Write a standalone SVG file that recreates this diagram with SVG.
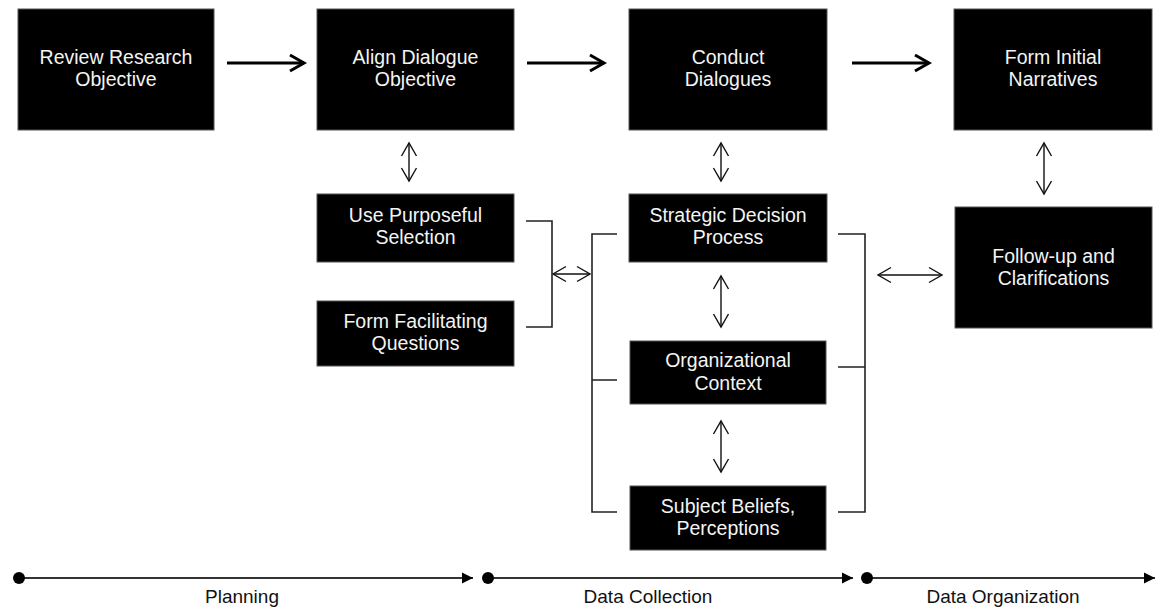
<svg xmlns="http://www.w3.org/2000/svg" width="1161" height="611" viewBox="0 0 1161 611">
<style>
.box{fill:#000;stroke:#555;stroke-width:1}
.t{font-family:"Liberation Sans",Arial,sans-serif;font-size:19.5px;fill:#f4f4f4;text-anchor:middle}
.lab{font-family:"Liberation Sans",Arial,sans-serif;font-size:19px;fill:#111;text-anchor:middle}
.bold{stroke:#000;stroke-width:3;fill:none;marker-end:url(#mb)}
.dbl{stroke:#111;stroke-width:1.4;fill:none;marker-start:url(#mt);marker-end:url(#mt)}
.br{stroke:#222;stroke-width:1.6;fill:none}
.tl{stroke:#333;stroke-width:2;fill:none;marker-end:url(#mf)}
.dot{fill:#000}
</style>
<defs>
<marker id="mb" markerUnits="userSpaceOnUse" viewBox="-18 -12 22 24" markerWidth="22" markerHeight="24" refX="0" refY="0" orient="auto">
<path d="M-14,-8 L0,0 L-14,8" fill="none" stroke="#000" stroke-width="3"/>
</marker>
<marker id="mt" markerUnits="userSpaceOnUse" viewBox="-16 -10 20 20" markerWidth="20" markerHeight="20" refX="0" refY="0" orient="auto-start-reverse">
<path d="M-13,-7.5 L0,0 L-13,7.5" fill="none" stroke="#111" stroke-width="1.4"/>
</marker>
<marker id="mf" markerUnits="userSpaceOnUse" viewBox="-13 -7 15 14" markerWidth="15" markerHeight="14" refX="0" refY="0" orient="auto">
<path d="M-11,-5.5 L0,0 L-11,5.5 Z" fill="#000"/>
</marker>
</defs>

<g id="connectors">
<line class="bold" x1="227" y1="63" x2="304" y2="63"/>
<line class="bold" x1="527" y1="63" x2="604" y2="63"/>
<line class="bold" x1="852" y1="63" x2="929" y2="63"/>
<line class="dbl" x1="409" y1="143" x2="409" y2="181"/>
<line class="dbl" x1="721" y1="143" x2="721" y2="181"/>
<line class="dbl" x1="1044" y1="143" x2="1044" y2="194"/>
<line class="dbl" x1="721" y1="276" x2="721" y2="327"/>
<line class="dbl" x1="721" y1="421" x2="721" y2="472"/>
<line class="dbl" x1="553" y1="274" x2="590" y2="274"/>
<line class="dbl" x1="878" y1="275" x2="942" y2="275"/>
<path class="br" d="M526,221 H552 V327 H526"/>
<path class="br" d="M617,234 H592 V512 H617 M592,380 H617"/>
<path class="br" d="M838,234 H865 V512 H838 M865,367 H838"/>
</g>

<g id="review-research"><rect class="box" x="18" y="9" width="196" height="121"/><text class="t" x="116" y="64">Review Research</text><text class="t" x="116" y="86">Objective</text></g>
<g id="align-dialogue"><rect class="box" x="317" y="9" width="197" height="121"/><text class="t" x="415.5" y="64">Align Dialogue</text><text class="t" x="415.5" y="86">Objective</text></g>
<g id="conduct-dialogues"><rect class="box" x="629" y="9" width="198" height="121"/><text class="t" x="728" y="64">Conduct</text><text class="t" x="728" y="86">Dialogues</text></g>
<g id="form-initial"><rect class="box" x="954" y="9" width="198" height="121"/><text class="t" x="1053" y="64">Form Initial</text><text class="t" x="1053" y="86">Narratives</text></g>
<g id="use-purposeful"><rect class="box" x="317" y="194" width="197" height="68"/><text class="t" x="415.5" y="222">Use Purposeful</text><text class="t" x="415.5" y="244">Selection</text></g>
<g id="form-facilitating"><rect class="box" x="317" y="301" width="197" height="65"/><text class="t" x="415.5" y="328">Form Facilitating</text><text class="t" x="415.5" y="350">Questions</text></g>
<g id="strategic-decision"><rect class="box" x="629" y="194" width="198" height="68"/><text class="t" x="728" y="222">Strategic Decision</text><text class="t" x="728" y="244">Process</text></g>
<g id="organizational-context"><rect class="box" x="630" y="341" width="196" height="63"/><text class="t" x="728" y="367">Organizational</text><text class="t" x="728" y="390">Context</text></g>
<g id="subject-beliefs"><rect class="box" x="630" y="486" width="196" height="64"/><text class="t" x="728" y="513">Subject Beliefs,</text><text class="t" x="728" y="535">Perceptions</text></g>
<g id="follow-up"><rect class="box" x="955" y="207" width="197" height="121"/><text class="t" x="1053.5" y="263">Follow-up and</text><text class="t" x="1053.5" y="285">Clarifications</text></g>

<g id="timeline">
<line class="tl" x1="19" y1="578" x2="473" y2="578"/>
<line class="tl" x1="488" y1="578" x2="853" y2="578"/>
<line class="tl" x1="867" y1="578" x2="1155" y2="578"/>
<circle class="dot" cx="19" cy="578" r="6"/>
<circle class="dot" cx="488" cy="578" r="6"/>
<circle class="dot" cx="867" cy="578" r="6"/>
<text class="lab" x="242" y="603">Planning</text>
<text class="lab" x="648" y="603">Data Collection</text>
<text class="lab" x="1003" y="603">Data Organization</text>
</g>
</svg>
